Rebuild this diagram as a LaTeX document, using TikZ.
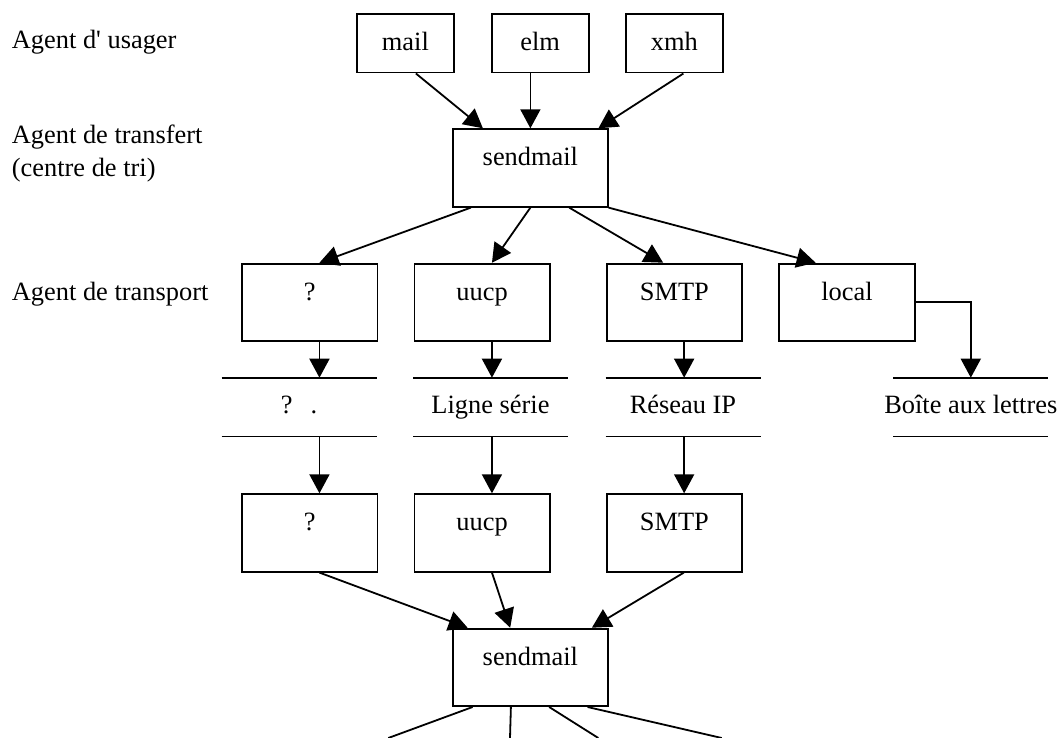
\documentclass[tikz,border=0pt]{standalone}
\usepackage{fontspec}
\setmainfont{Liberation Serif}
\usetikzlibrary{arrows.meta}

\begin{document}
\begin{tikzpicture}[x=1pt,y=-1pt,
    every node/.style={font=\fontsize{26.4}{33.4}\selectfont, inner sep=0pt},
    box/.style={draw, line width=1.8pt, anchor=north west, text height=36.5pt,
        text depth=41pt, minimum width=135.5pt},
    medium/.style={anchor=north, text height=35.6pt, text depth=22.7pt},
    wire/.style={line width=1.8pt},
    flow/.style={wire, -{Triangle[length=19pt,width=20pt]}}]
\useasboundingbox (0,0) rectangle (1063,738);
% agents d'usager
\node[anchor=base west] (lu) at (11.7,49) {Agent d\textquotesingle{} usager};
\foreach \x/\n in {356/mail, 490.7/elm, 625/xmh}
    \node[box, minimum width=97pt, text depth=21.9pt] (\n) at (\x,13.3) {\n};
% agent de transfert
\node[anchor=base west, align=left] (lt) at (11.7,176.7) {Agent de transfert\\(centre de tri)};
\node[box, minimum width=154.4pt] (s1) at (452.3,128.3) {sendmail};
% agents de transport
\node[anchor=base west] (lp) at (11.7,300) {Agent de transport};
\foreach \x/\n/\t in {241/t1/?, 413.5/t2/uucp, 605.7/t3/SMTP, 778.3/t4/local}
    \node[box] (\n) at (\x,262.7) {\t};
% supports
\foreach \x/\n/\t in {299/m1/{?\hspace{18pt}.}, 490.5/m2/Ligne série,
        683/m3/Réseau IP, 970.8/m4/Boîte aux lettres} {
    \node[medium] (\n) at (\x,377.7) {\t};
    \draw[wire] ([xshift=-77.5pt]\n.north) -- ([xshift=77.5pt]\n.north)
        ([xshift=-77.5pt]\n.south) -- ([xshift=77.5pt]\n.south);
}
% reception
\foreach \x/\n/\t in {241/r1/?, 413.5/r2/uucp, 605.7/r3/SMTP}
    \node[box] (\n) at (\x,493.3) {\t};
\node[box, minimum width=154.4pt] (s2) at (452.3,627.7) {sendmail};
\coordinate (o1) at (388.3,738);
\coordinate (o2) at (510,738);
\coordinate (o3) at (598.3,738);
\coordinate (o4) at (721.7,738);

% usager -> transfert
\draw[flow] ([xshift=10.5pt]mail.south) -- ([xshift=-47.5pt]s1.north);
\draw[flow] (s1.north |- elm.south) -- (s1.north);
\draw[flow] ([xshift=9pt]xmh.south) -- ([xshift=68pt]s1.north);
% transfert -> transport
\draw[flow] ([xshift=-59.5pt]s1.south) -- ([xshift=9.8pt]t1.north);
\draw[flow] (s1.south) -- ([xshift=9.8pt]t2.north);
\draw[flow] ([xshift=38.8pt]s1.south) -- ([xshift=-11.2pt]t3.north);
\draw[flow] (s1.south east) -- ([xshift=-31.3pt]t4.north);
% transport -> supports -> reception
\foreach \i in {1,2,3} {
    \draw[flow] ([xshift=9.8pt]t\i.south) -- ([xshift=9.8pt]t\i.south |- m\i.north);
    \draw[flow] ([xshift=9.8pt]t\i.south |- m\i.south) -- ([xshift=9.8pt]t\i.south |- r\i.north);
}
\draw[flow] (t4.east) -| (m4.north);
% reception -> sendmail
\draw[flow] ([xshift=9.8pt]r1.south) -- ([xshift=-62.8pt]s2.north);
\draw[flow] ([xshift=9.8pt]r2.south) -- ([xshift=-20.2pt]s2.north);
\draw[flow] ([xshift=9.5pt]r3.south) -- ([xshift=61.5pt]s2.north);
\draw[wire] ([xshift=-57.8pt]s2.south) -- (o1);
\draw[wire] ([xshift=-19.5pt]s2.south) -- (o2);
\draw[wire] ([xshift=18.8pt]s2.south) -- (o3);
\draw[wire] ([xshift=57.2pt]s2.south) -- (o4);
\end{tikzpicture}
\end{document}
